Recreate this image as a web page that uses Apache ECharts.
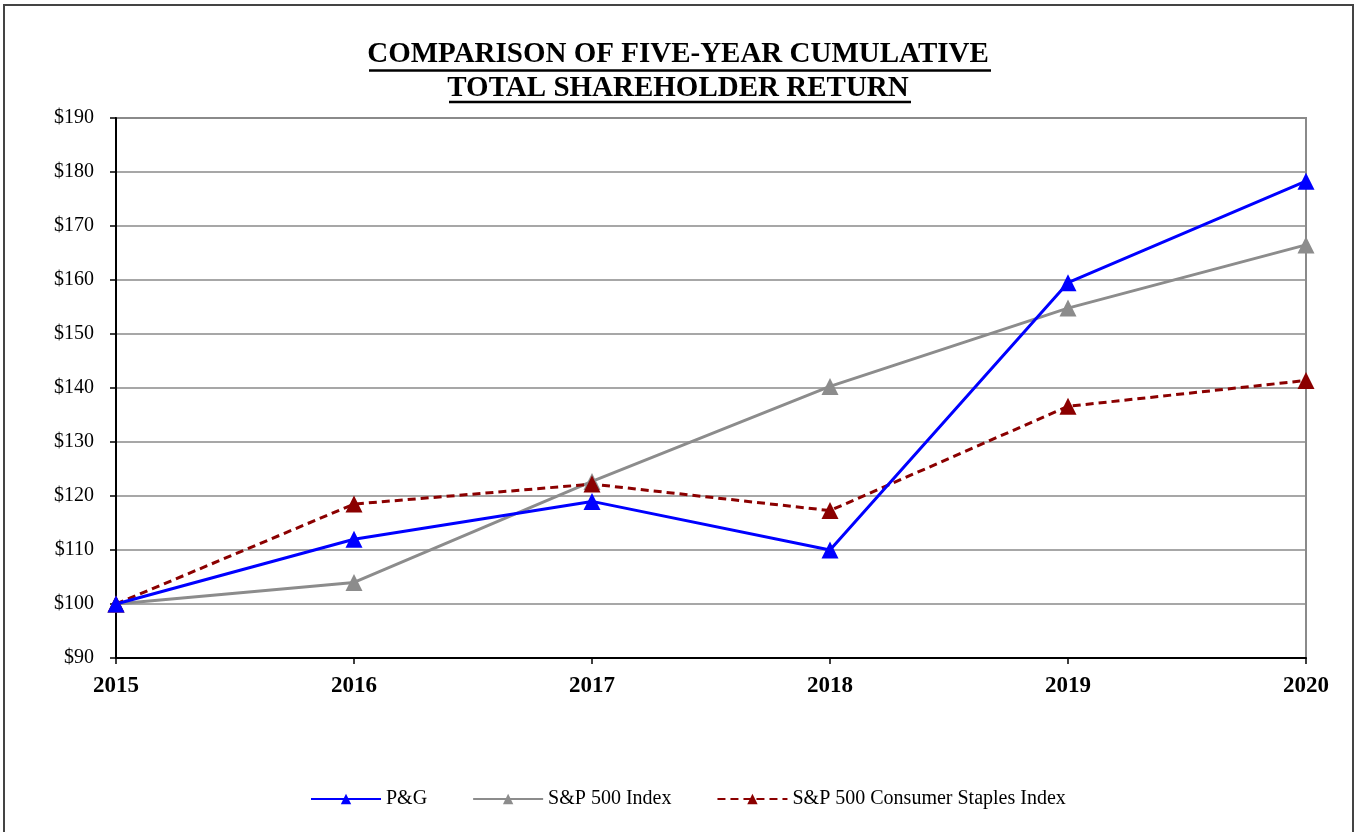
<!DOCTYPE html>
<html><head><meta charset="utf-8">
<script src="https://cdn.jsdelivr.net/npm/echarts@6/dist/echarts.min.js"></script>
<style>
html,body{margin:0;padding:0;background:#fff;}
#frame{position:absolute;left:3px;top:4px;width:1351px;height:840px;border:2px solid #444;box-sizing:border-box;}
#c{position:absolute;left:0;top:0;width:1356px;height:832px;}
</style></head>
<body><div id="frame"></div><div id="c"></div>
<script>
const years = ['2015','2016','2017','2018','2019','2020'];
const pg = [100, 112, 119, 110, 159.5, 178.3];
const sp500 = [100, 104, 122.7, 140.3, 154.8, 166.5];
const staples = [100, 118.5, 122.2, 117.3, 136.6, 141.4];
const yTicks = [90,100,110,120,130,140,150,160,170,180,190];

const chart = echarts.init(document.getElementById('c'));
const serif = '"Liberation Serif","Times New Roman",serif';
chart.setOption({
  animation:false,
  textStyle:{fontFamily:serif},
  graphic:[
    {type:'text',left:'center',top:40,style:{text:'COMPARISON OF FIVE-YEAR CUMULATIVE',font:'bold 29px '+serif,fill:'#000'}},
    {type:'text',left:'center',top:74,style:{text:'TOTAL SHAREHOLDER RETURN',font:'bold 29px '+serif,fill:'#000'}},
    {type:'line',shape:{x1:369,y1:70.5,x2:991,y2:70.5},style:{stroke:'#000',lineWidth:2.5}},
    {type:'line',shape:{x1:449,y1:102,x2:911,y2:102},style:{stroke:'#000',lineWidth:2.5}}
  ],
  legend:{
    top:784,left:305,itemGap:45,itemWidth:70,itemHeight:13,
    textStyle:{fontFamily:serif,fontSize:20,color:'#000'},
    data:['P&G','S&P 500 Index','S&P 500 Consumer Staples Index']
  },
  grid:{left:116,right:50,top:118,bottom:174,show:true,borderColor:'#8a8a8a',borderWidth:2},
  xAxis:{
    type:'category',data:years,boundaryGap:false,
    axisLine:{lineStyle:{color:'#000',width:2}},
    axisTick:{show:true,length:6,inside:false,lineStyle:{color:'#000',width:1.5}},
    axisLabel:{fontFamily:serif,fontSize:23,fontWeight:'bold',color:'#000',margin:17}
  },
  yAxis:{
    type:'value',min:90,max:190,interval:10,
    axisLine:{show:true,lineStyle:{color:'#000',width:2}},
    axisTick:{show:true,length:6,lineStyle:{color:'#000',width:1.5}},
    axisLabel:{fontFamily:serif,fontSize:20,color:'#000',margin:22,formatter:v=>yTicks.includes(v)?'$'+v:''},
    splitLine:{lineStyle:{color:'#8a8a8a',width:1.5}}
  },
  series:[
    {name:'S&P 500 Index',type:'line',data:sp500,symbol:'triangle',symbolSize:17,
     lineStyle:{color:'#8c8c8c',width:3},itemStyle:{color:'#8c8c8c'}},
    {name:'S&P 500 Consumer Staples Index',type:'line',data:staples,symbol:'triangle',symbolSize:17,
     lineStyle:{color:'#8b0000',width:3,type:[8,5]},itemStyle:{color:'#8b0000'}},
    {name:'P&G',type:'line',data:pg,symbol:'triangle',symbolSize:17,
     lineStyle:{color:'#0000ff',width:3},itemStyle:{color:'#0000ff'}}
  ]
});
</script></body></html>
